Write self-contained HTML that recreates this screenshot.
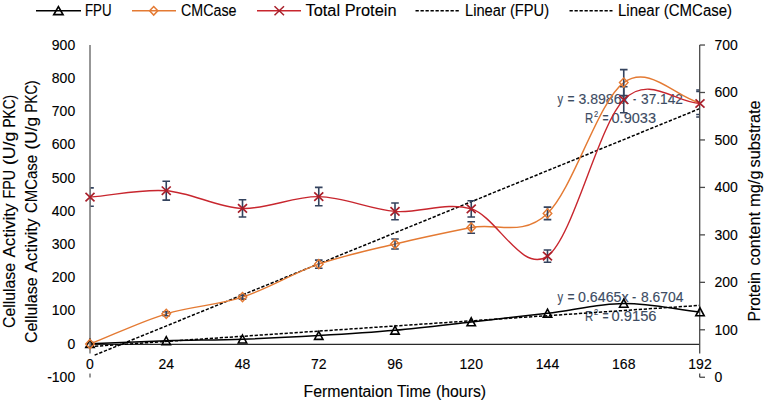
<!DOCTYPE html>
<html><head><meta charset="utf-8"><style>
html,body{margin:0;padding:0;background:#fff;}
svg{display:block;font-family:"Liberation Sans", sans-serif;}
text{stroke:#000;stroke-width:0.12px;}
text.eq{stroke:#3d4c63;}
</style></head><body>
<svg width="765" height="402" viewBox="0 0 765 402">
<rect width="765" height="402" fill="#fff"/>
<line x1="36" y1="10.8" x2="81" y2="10.8" stroke="#000" stroke-width="1.5"/>
<path d="M58.4,6.6 L63,14.6 L53.8,14.6 Z" fill="none" stroke="#000" stroke-width="1.7"/>
<line x1="132" y1="10.8" x2="176" y2="10.8" stroke="#e47a33" stroke-width="1.5"/>
<path d="M153.7,6.5 L157.8,10.8 L153.7,15.1 L149.6,10.8 Z" fill="none" stroke="#e47a33" stroke-width="1.5"/>
<line x1="257" y1="10.8" x2="301" y2="10.8" stroke="#c8262e" stroke-width="1.5"/>
<path d="M274.5,6.3 L284,15.3 M284,6.3 L274.5,15.3" stroke="#a81f2a" stroke-width="1.5"/>
<line x1="415.5" y1="10.8" x2="459" y2="10.8" stroke="#000" stroke-width="1.4" stroke-dasharray="3.3,1.7"/>
<line x1="569.5" y1="10.8" x2="612.5" y2="10.8" stroke="#000" stroke-width="1.4" stroke-dasharray="3.3,1.7"/>
<text x="75.2" y="381.7" font-size="14" text-anchor="end" fill="#000" >-100</text>
<text x="75.2" y="348.5" font-size="14" text-anchor="end" fill="#000" >0</text>
<text x="75.2" y="315.3" font-size="14" text-anchor="end" fill="#000" >100</text>
<text x="75.2" y="282.09999999999997" font-size="14" text-anchor="end" fill="#000" >200</text>
<text x="75.2" y="248.89999999999998" font-size="14" text-anchor="end" fill="#000" >300</text>
<text x="75.2" y="215.7" font-size="14" text-anchor="end" fill="#000" >400</text>
<text x="75.2" y="182.5" font-size="14" text-anchor="end" fill="#000" >500</text>
<text x="75.2" y="149.29999999999998" font-size="14" text-anchor="end" fill="#000" >600</text>
<text x="75.2" y="116.09999999999998" font-size="14" text-anchor="end" fill="#000" >700</text>
<text x="75.2" y="82.89999999999996" font-size="14" text-anchor="end" fill="#000" >800</text>
<text x="75.2" y="49.699999999999974" font-size="14" text-anchor="end" fill="#000" >900</text>
<text x="714.5" y="382.05" font-size="14" text-anchor="start" fill="#000" >0</text>
<text x="714.5" y="334.59000000000003" font-size="14" text-anchor="start" fill="#000" >100</text>
<text x="714.5" y="287.13" font-size="14" text-anchor="start" fill="#000" >200</text>
<text x="714.5" y="239.67000000000002" font-size="14" text-anchor="start" fill="#000" >300</text>
<text x="714.5" y="192.21" font-size="14" text-anchor="start" fill="#000" >400</text>
<text x="714.5" y="144.75" font-size="14" text-anchor="start" fill="#000" >500</text>
<text x="714.5" y="97.29" font-size="14" text-anchor="start" fill="#000" >600</text>
<text x="714.5" y="49.82999999999997" font-size="14" text-anchor="start" fill="#000" >700</text>
<text x="85.0" y="15.7" font-size="16" fill="#000" textLength="26.58" lengthAdjust="spacingAndGlyphs">FPU</text>
<text x="181.0" y="15.7" font-size="16" fill="#000" textLength="55.53" lengthAdjust="spacingAndGlyphs">CMCase</text>
<text x="305.5" y="15.7" font-size="16" fill="#000" textLength="91.02" lengthAdjust="spacingAndGlyphs">Total Protein</text>
<text x="465.0" y="15.7" font-size="16" fill="#000" textLength="84.02" lengthAdjust="spacingAndGlyphs">Linear (FPU)</text>
<text x="618.0" y="15.7" font-size="16" fill="#000" textLength="114.01" lengthAdjust="spacingAndGlyphs">Linear (CMCase)</text>
<text x="303.5" y="396.7" font-size="16" fill="#000" textLength="89.04" lengthAdjust="spacingAndGlyphs">Fermentaion</text>
<text x="397.0" y="396.7" font-size="16" fill="#000" textLength="34.0" lengthAdjust="spacingAndGlyphs">Time</text>
<text x="436.0" y="396.7" font-size="16" fill="#000" textLength="50.06" lengthAdjust="spacingAndGlyphs">(hours)</text>
<text transform="translate(15.0,328.0) rotate(-90)" font-size="16" fill="#000" textLength="65.02" lengthAdjust="spacingAndGlyphs">Cellulase</text>
<text transform="translate(15.0,257.5) rotate(-90)" font-size="16" fill="#000" textLength="54.0" lengthAdjust="spacingAndGlyphs">Activity</text>
<text transform="translate(15.0,198.5) rotate(-90)" font-size="16" fill="#000" textLength="28.64" lengthAdjust="spacingAndGlyphs">FPU</text>
<text transform="translate(15.0,165.0) rotate(-90)" font-size="16" fill="#000" textLength="33.15" lengthAdjust="spacingAndGlyphs">(U/g</text>
<text transform="translate(15.0,127.5) rotate(-90)" font-size="16" fill="#000" textLength="32.62" lengthAdjust="spacingAndGlyphs">PKC)</text>
<text transform="translate(36.5,343.0) rotate(-90)" font-size="16" fill="#000" textLength="65.55" lengthAdjust="spacingAndGlyphs">Cellulase</text>
<text transform="translate(36.5,272.5) rotate(-90)" font-size="16" fill="#000" textLength="54.01" lengthAdjust="spacingAndGlyphs">Activity</text>
<text transform="translate(36.5,213.0) rotate(-90)" font-size="16" fill="#000" textLength="58.01" lengthAdjust="spacingAndGlyphs">CMCase</text>
<text transform="translate(36.5,149.5) rotate(-90)" font-size="16" fill="#000" textLength="32.62" lengthAdjust="spacingAndGlyphs">(U/g</text>
<text transform="translate(36.5,112.5) rotate(-90)" font-size="16" fill="#000" textLength="32.09" lengthAdjust="spacingAndGlyphs">PKC)</text>
<text transform="translate(760.0,321.5) rotate(-90)" font-size="16" fill="#000" textLength="49.56" lengthAdjust="spacingAndGlyphs">Protein</text>
<text transform="translate(760.0,265.5) rotate(-90)" font-size="16" fill="#000" textLength="53.51" lengthAdjust="spacingAndGlyphs">content</text>
<text transform="translate(760.0,207.0) rotate(-90)" font-size="16" fill="#000" textLength="36.61" lengthAdjust="spacingAndGlyphs">mg/g</text>
<text transform="translate(760.0,167.5) rotate(-90)" font-size="16" fill="#000" textLength="67.05" lengthAdjust="spacingAndGlyphs">substrate</text>
<text x="557.5" y="104.2" font-size="14" fill="#3d4c63" class="eq" textLength="5.64" lengthAdjust="spacingAndGlyphs">y</text>
<text x="567.5" y="104.2" font-size="14" fill="#3d4c63" class="eq" textLength="7.06" lengthAdjust="spacingAndGlyphs">=</text>
<text x="578.5" y="104.2" font-size="14" fill="#3d4c63" class="eq" textLength="50.03" lengthAdjust="spacingAndGlyphs">3.8986x</text>
<text x="633.0" y="104.2" font-size="14" fill="#3d4c63" class="eq" textLength="3.16" lengthAdjust="spacingAndGlyphs">-</text>
<text x="641.0" y="104.2" font-size="14" fill="#3d4c63" class="eq" textLength="42.01" lengthAdjust="spacingAndGlyphs">37.142</text>
<text x="585.0" y="122.7" font-size="14" fill="#3d4c63" class="eq" textLength="8.24" lengthAdjust="spacingAndGlyphs">R</text>
<text x="594.0" y="117.3" font-size="9.5" fill="#3d4c63" class="eq" textLength="4.21" lengthAdjust="spacingAndGlyphs">2</text>
<text x="602.5" y="122.7" font-size="14" fill="#3d4c63" class="eq" textLength="6.08" lengthAdjust="spacingAndGlyphs">=</text>
<text x="611.5" y="122.7" font-size="14" fill="#3d4c63" class="eq" textLength="44.55" lengthAdjust="spacingAndGlyphs">0.9033</text>
<text x="557.5" y="302.4" font-size="14" fill="#3d4c63" class="eq" textLength="5.64" lengthAdjust="spacingAndGlyphs">y</text>
<text x="567.5" y="302.4" font-size="14" fill="#3d4c63" class="eq" textLength="7.06" lengthAdjust="spacingAndGlyphs">=</text>
<text x="578.0" y="302.4" font-size="14" fill="#3d4c63" class="eq" textLength="50.52" lengthAdjust="spacingAndGlyphs">0.6465x</text>
<text x="632.0" y="302.4" font-size="14" fill="#3d4c63" class="eq" textLength="4.2" lengthAdjust="spacingAndGlyphs">-</text>
<text x="641.0" y="302.4" font-size="14" fill="#3d4c63" class="eq" textLength="42.51" lengthAdjust="spacingAndGlyphs">8.6704</text>
<text x="585.0" y="320.6" font-size="14" fill="#3d4c63" class="eq" textLength="8.24" lengthAdjust="spacingAndGlyphs">R</text>
<text x="594.0" y="315.2" font-size="9.5" fill="#3d4c63" class="eq" textLength="4.21" lengthAdjust="spacingAndGlyphs">2</text>
<text x="602.5" y="320.6" font-size="14" fill="#3d4c63" class="eq" textLength="6.08" lengthAdjust="spacingAndGlyphs">=</text>
<text x="611.5" y="320.6" font-size="14" fill="#3d4c63" class="eq" textLength="45.03" lengthAdjust="spacingAndGlyphs">0.9156</text>
<defs><clipPath id="pa"><rect x="90" y="40" width="610" height="340"/></clipPath></defs>
<line x1="90" y1="344.4" x2="700" y2="344.4" stroke="#2a2a2a" stroke-width="1.2"/>
<g clip-path="url(#pa)">
<line x1="90" y1="357.03" x2="700" y2="108.52" stroke="#000" stroke-width="1.5" stroke-dasharray="3.3,1.7"/>
<line x1="90" y1="346.58" x2="700" y2="305.37" stroke="#000" stroke-width="1.5" stroke-dasharray="3.3,1.7"/>
</g>
<rect x="83" y="353.6" width="11" height="20" fill="#fff"/>
<path d="M90.00,343.70 C115.42,342.73 140.83,341.55 166.25,340.80 C191.67,340.05 217.08,340.07 242.50,339.20 C267.92,338.33 293.33,337.08 318.75,335.60 C344.17,334.12 369.58,332.57 395.00,330.30 C420.42,328.03 445.83,324.83 471.25,322.00 C496.67,319.17 522.08,316.40 547.50,313.30 C572.92,310.20 598.33,303.62 623.75,303.40 C649.17,303.18 674.58,309.13 700.00,312.00" fill="none" stroke="#000" stroke-width="1.5"/>
<path d="M90.00,344.00 C115.42,333.93 140.83,321.62 166.25,313.80 C191.67,305.98 217.08,305.37 242.50,297.10 C267.92,288.83 293.33,273.05 318.75,264.20 C344.17,255.35 369.58,250.12 395.00,244.00 C420.42,237.88 445.83,232.60 471.25,227.50 C496.67,222.40 522.08,237.55 547.50,213.40 C572.92,189.25 598.33,101.00 623.75,82.60 C649.17,64.20 674.58,96.20 700.00,103.00" fill="none" stroke="#e47a33" stroke-width="1.4"/>
<path d="M90.00,197.10 C115.42,194.97 140.83,188.82 166.25,190.70 C191.67,192.58 217.08,207.42 242.50,208.40 C267.92,209.38 293.33,196.10 318.75,196.60 C344.17,197.10 369.58,209.35 395.00,211.40 C420.42,213.45 445.83,201.45 471.25,208.90 C496.67,216.35 522.08,274.28 547.50,256.10 C572.92,237.92 598.33,125.23 623.75,99.80 C649.17,74.37 674.58,102.27 700.00,103.50" fill="none" stroke="#c8262e" stroke-width="1.4"/>
<g clip-path="url(#pa)">
<path d="M90.00,342.50 L90.00,345.50 M86.20,342.50 L93.80,342.50 M86.20,345.50 L93.80,345.50" stroke="#34435e" stroke-width="1.6" fill="none"/>
<path d="M166.25,311.80 L166.25,315.80 M162.45,311.80 L170.05,311.80 M162.45,315.80 L170.05,315.80" stroke="#34435e" stroke-width="1.6" fill="none"/>
<path d="M242.50,295.10 L242.50,299.10 M238.70,295.10 L246.30,295.10 M238.70,299.10 L246.30,299.10" stroke="#34435e" stroke-width="1.6" fill="none"/>
<path d="M318.75,260.10 L318.75,268.30 M314.95,260.10 L322.55,260.10 M314.95,268.30 L322.55,268.30" stroke="#34435e" stroke-width="1.6" fill="none"/>
<path d="M395.00,239.00 L395.00,249.00 M391.20,239.00 L398.80,239.00 M391.20,249.00 L398.80,249.00" stroke="#34435e" stroke-width="1.6" fill="none"/>
<path d="M471.25,221.75 L471.25,233.25 M467.45,221.75 L475.05,221.75 M467.45,233.25 L475.05,233.25" stroke="#34435e" stroke-width="1.6" fill="none"/>
<path d="M547.50,207.15 L547.50,219.65 M543.70,207.15 L551.30,207.15 M543.70,219.65 L551.30,219.65" stroke="#34435e" stroke-width="1.6" fill="none"/>
<path d="M623.75,69.60 L623.75,95.60 M619.95,69.60 L627.55,69.60 M619.95,95.60 L627.55,95.60" stroke="#34435e" stroke-width="1.6" fill="none"/>
<path d="M700.00,91.50 L700.00,114.50 M696.20,91.50 L703.80,91.50 M696.20,114.50 L703.80,114.50" stroke="#34435e" stroke-width="1.6" fill="none"/>
<path d="M90.00,187.90 L90.00,206.30 M86.20,187.90 L93.80,187.90 M86.20,206.30 L93.80,206.30" stroke="#34435e" stroke-width="1.6" fill="none"/>
<path d="M166.25,181.30 L166.25,200.10 M162.45,181.30 L170.05,181.30 M162.45,200.10 L170.05,200.10" stroke="#34435e" stroke-width="1.6" fill="none"/>
<path d="M242.50,199.80 L242.50,217.00 M238.70,199.80 L246.30,199.80 M238.70,217.00 L246.30,217.00" stroke="#34435e" stroke-width="1.6" fill="none"/>
<path d="M318.75,187.40 L318.75,205.80 M314.95,187.40 L322.55,187.40 M314.95,205.80 L322.55,205.80" stroke="#34435e" stroke-width="1.6" fill="none"/>
<path d="M395.00,203.00 L395.00,219.80 M391.20,203.00 L398.80,203.00 M391.20,219.80 L398.80,219.80" stroke="#34435e" stroke-width="1.6" fill="none"/>
<path d="M471.25,200.80 L471.25,217.00 M467.45,200.80 L475.05,200.80 M467.45,217.00 L475.05,217.00" stroke="#34435e" stroke-width="1.6" fill="none"/>
<path d="M547.50,250.00 L547.50,262.20 M543.70,250.00 L551.30,250.00 M543.70,262.20 L551.30,262.20" stroke="#34435e" stroke-width="1.6" fill="none"/>
<path d="M623.75,86.80 L623.75,112.80 M619.95,86.80 L627.55,86.80 M619.95,112.80 L627.55,112.80" stroke="#34435e" stroke-width="1.6" fill="none"/>
<path d="M700.00,90.00 L700.00,117.00 M696.20,90.00 L703.80,90.00 M696.20,117.00 L703.80,117.00" stroke="#34435e" stroke-width="1.6" fill="none"/>
</g>
<line x1="90" y1="45" x2="90" y2="353.6" stroke="#7d7d7d" stroke-width="1.6"/>
<line x1="90" y1="373.6" x2="90" y2="377.4" stroke="#7d7d7d" stroke-width="1.6"/>
<line x1="699.7" y1="45" x2="699.7" y2="353.6" stroke="#4a4a4a" stroke-width="1.3"/>
<line x1="699.7" y1="373.4" x2="699.7" y2="377.25" stroke="#4a4a4a" stroke-width="1.3"/>
<line x1="699.7" y1="329.79" x2="705" y2="329.79" stroke="#4a4a4a" stroke-width="1.3"/>
<line x1="699.7" y1="282.33" x2="705" y2="282.33" stroke="#4a4a4a" stroke-width="1.3"/>
<line x1="699.7" y1="234.87" x2="705" y2="234.87" stroke="#4a4a4a" stroke-width="1.3"/>
<line x1="699.7" y1="187.41" x2="705" y2="187.41" stroke="#4a4a4a" stroke-width="1.3"/>
<line x1="699.7" y1="139.95" x2="705" y2="139.95" stroke="#4a4a4a" stroke-width="1.3"/>
<line x1="699.7" y1="92.49" x2="705" y2="92.49" stroke="#4a4a4a" stroke-width="1.3"/>
<line x1="699.7" y1="45.03" x2="705" y2="45.03" stroke="#4a4a4a" stroke-width="1.3"/>
<line x1="699.7" y1="377.25" x2="705" y2="377.25" stroke="#4a4a4a" stroke-width="1.3"/>
<path d="M90.00,339.50 L94.20,347.50 L85.80,347.50 Z" fill="none" stroke="#000" stroke-width="1.6" stroke-linejoin="miter"/>
<path d="M166.25,336.60 L170.45,344.60 L162.05,344.60 Z" fill="none" stroke="#000" stroke-width="1.6" stroke-linejoin="miter"/>
<path d="M242.50,335.00 L246.70,343.00 L238.30,343.00 Z" fill="none" stroke="#000" stroke-width="1.6" stroke-linejoin="miter"/>
<path d="M318.75,331.40 L322.95,339.40 L314.55,339.40 Z" fill="none" stroke="#000" stroke-width="1.6" stroke-linejoin="miter"/>
<path d="M395.00,326.10 L399.20,334.10 L390.80,334.10 Z" fill="none" stroke="#000" stroke-width="1.6" stroke-linejoin="miter"/>
<path d="M471.25,317.80 L475.45,325.80 L467.05,325.80 Z" fill="none" stroke="#000" stroke-width="1.6" stroke-linejoin="miter"/>
<path d="M547.50,309.10 L551.70,317.10 L543.30,317.10 Z" fill="none" stroke="#000" stroke-width="1.6" stroke-linejoin="miter"/>
<path d="M623.75,299.20 L627.95,307.20 L619.55,307.20 Z" fill="none" stroke="#000" stroke-width="1.6" stroke-linejoin="miter"/>
<path d="M700.00,307.80 L704.20,315.80 L695.80,315.80 Z" fill="none" stroke="#000" stroke-width="1.6" stroke-linejoin="miter"/>
<path d="M90.00,339.40 L94.30,344.00 L90.00,348.60 L85.70,344.00 Z" fill="none" stroke="#e47a33" stroke-width="1.4"/>
<path d="M166.25,309.20 L170.55,313.80 L166.25,318.40 L161.95,313.80 Z" fill="none" stroke="#e47a33" stroke-width="1.4"/>
<path d="M242.50,292.50 L246.80,297.10 L242.50,301.70 L238.20,297.10 Z" fill="none" stroke="#e47a33" stroke-width="1.4"/>
<path d="M318.75,259.60 L323.05,264.20 L318.75,268.80 L314.45,264.20 Z" fill="none" stroke="#e47a33" stroke-width="1.4"/>
<path d="M395.00,239.40 L399.30,244.00 L395.00,248.60 L390.70,244.00 Z" fill="none" stroke="#e47a33" stroke-width="1.4"/>
<path d="M471.25,222.90 L475.55,227.50 L471.25,232.10 L466.95,227.50 Z" fill="none" stroke="#e47a33" stroke-width="1.4"/>
<path d="M547.50,208.80 L551.80,213.40 L547.50,218.00 L543.20,213.40 Z" fill="none" stroke="#e47a33" stroke-width="1.4"/>
<path d="M623.75,78.00 L628.05,82.60 L623.75,87.20 L619.45,82.60 Z" fill="none" stroke="#e47a33" stroke-width="1.4"/>
<path d="M85.50,192.90 L94.50,201.30 M94.50,192.90 L85.50,201.30" stroke="#a81f2a" stroke-width="1.7"/>
<path d="M161.75,186.50 L170.75,194.90 M170.75,186.50 L161.75,194.90" stroke="#a81f2a" stroke-width="1.7"/>
<path d="M238.00,204.20 L247.00,212.60 M247.00,204.20 L238.00,212.60" stroke="#a81f2a" stroke-width="1.7"/>
<path d="M314.25,192.40 L323.25,200.80 M323.25,192.40 L314.25,200.80" stroke="#a81f2a" stroke-width="1.7"/>
<path d="M390.50,207.20 L399.50,215.60 M399.50,207.20 L390.50,215.60" stroke="#a81f2a" stroke-width="1.7"/>
<path d="M466.75,204.70 L475.75,213.10 M475.75,204.70 L466.75,213.10" stroke="#a81f2a" stroke-width="1.7"/>
<path d="M543.00,251.90 L552.00,260.30 M552.00,251.90 L543.00,260.30" stroke="#a81f2a" stroke-width="1.7"/>
<path d="M619.25,95.60 L628.25,104.00 M628.25,95.60 L619.25,104.00" stroke="#a81f2a" stroke-width="1.7"/>
<path d="M695.50,99.30 L704.50,107.70 M704.50,99.30 L695.50,107.70" stroke="#a81f2a" stroke-width="1.7"/>
<text x="90.0" y="369.3" font-size="14" text-anchor="middle" fill="#000" >0</text>
<text x="166.25" y="369.3" font-size="14" text-anchor="middle" fill="#000" >24</text>
<text x="242.5" y="369.3" font-size="14" text-anchor="middle" fill="#000" >48</text>
<text x="318.75" y="369.3" font-size="14" text-anchor="middle" fill="#000" >72</text>
<text x="395.0" y="369.3" font-size="14" text-anchor="middle" fill="#000" >96</text>
<text x="471.25" y="369.3" font-size="14" text-anchor="middle" fill="#000" >120</text>
<text x="547.5" y="369.3" font-size="14" text-anchor="middle" fill="#000" >144</text>
<text x="623.75" y="369.3" font-size="14" text-anchor="middle" fill="#000" >168</text>
<text x="700.0" y="369.3" font-size="14" text-anchor="middle" fill="#000" >192</text>
</svg>
</body></html>
